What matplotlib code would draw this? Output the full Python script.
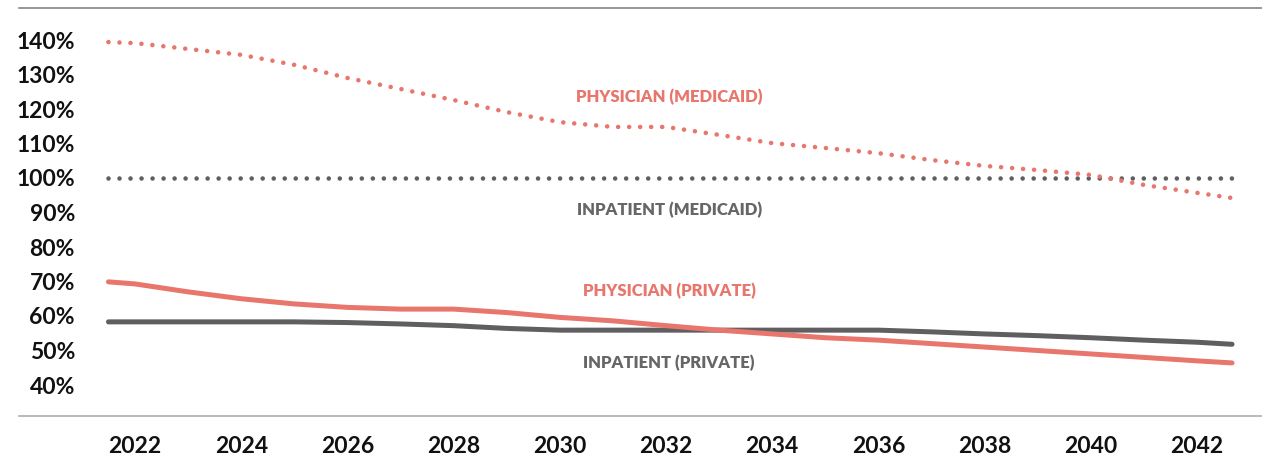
import matplotlib
matplotlib.use("Agg")
import matplotlib.pyplot as plt

plt.rcParams['font.family'] = ['Lato', 'DejaVu Sans']
plt.rcParams['lines.scale_dashes'] = False

# Years (endpoints fall half a year outside the labelled range)
years = [2021.5, 2022, 2023, 2024, 2025, 2026, 2027, 2028, 2029, 2030, 2031,
         2032, 2033, 2034, 2035, 2036, 2037, 2038, 2039, 2040, 2041, 2042, 2042.66]

physician_medicaid = [139.4, 139.1, 137.4, 135.7, 132.8, 129.0, 125.8, 122.6, 119.1,
                      116.2, 114.8, 114.8, 112.5, 110.1, 108.7, 107.2, 105.2, 103.5,
                      102.3, 100.9, 98.0, 95.7, 94.2]
inpatient_medicaid = [100.0] * len(years)
physician_private = [69.9, 69.3, 67.0, 65.0, 63.5, 62.5, 62.0, 62.0, 61.0, 59.6, 58.6,
                     57.2, 55.9, 54.8, 53.7, 53.0, 52.0, 51.0, 50.0, 49.0, 48.0, 47.0, 46.4]
inpatient_private = [58.3, 58.3, 58.3, 58.3, 58.3, 58.1, 57.7, 57.2, 56.4, 55.9, 55.9,
                     55.9, 55.9, 55.9, 55.9, 55.9, 55.4, 54.8, 54.3, 53.7, 53.0, 52.4, 51.8]

y_ticks = [40, 50, 60, 70, 80, 90, 100, 110, 120, 130, 140]
x_ticks = [2022, 2024, 2026, 2028, 2030, 2032, 2034, 2036, 2038, 2040, 2042]

RED = '#E8766D'
GRAY = '#5F5F61'

fig = plt.figure(figsize=(12.62, 4.57), dpi=100)
W, H = 1262, 457
ax = fig.add_axes([19 / W, 1 - 416 / H, 1 - 19 / W, (416 - 8) / H])

px = 100 / 72  # pixels per point
dot_style = dict(linestyle=(0, (0.01, 11 / px)), dash_capstyle='round',
                 linewidth=4.6 / px, solid_capstyle='round')

ax.plot(years, inpatient_medicaid, color=GRAY, **dot_style, zorder=2)
ax.plot(years, physician_medicaid, color=RED, **dot_style, zorder=3)
ax.plot(years, inpatient_private, color=GRAY, linewidth=5 / px,
        solid_capstyle='round', solid_joinstyle='round', zorder=2)
ax.plot(years, physician_private, color=RED, linewidth=5 / px,
        solid_capstyle='round', solid_joinstyle='round', zorder=3)

# Series labels
lab_kw = dict(ha='center', va='center', fontsize=12, fontweight='heavy')
ax.text(2032.06, 123.5, 'PHYSICIAN (MEDICAID)', color=RED, **lab_kw)
ax.text(2032.06, 90.7, 'INPATIENT (MEDICAID)', color='#666666', **lab_kw)
ax.text(2032.06, 67.2, 'PHYSICIAN (PRIVATE)', color=RED, **lab_kw)
ax.text(2032.06, 46.4, 'INPATIENT (PRIVATE)', color='#666666', **lab_kw)

x0 = 2022 + (19 - 135) / 53.1
x1 = 2022 + (1262 - 135) / 53.1
ax.set_xlim(x0, x1)
ax.set_ylim(140 - (416 - 40) / 3.45, 140 + (40 - 8) / 3.45)

ax.set_yticks(y_ticks)
ax.set_yticklabels([f'{v}%' for v in y_ticks])
ax.set_xticks(x_ticks)
ax.set_xticklabels([str(v) for v in x_ticks])
ax.tick_params(axis='y', length=0, pad=-(75 - 19) / px, labelsize=16.5)
ax.tick_params(axis='x', length=0, pad=20 / px, labelsize=16.5)
for lab in ax.get_yticklabels() + ax.get_xticklabels():
    lab.set_fontweight('bold')
    lab.set_color('#111111')
for lab in ax.get_yticklabels():
    lab.set_horizontalalignment('right')

for s in ('left', 'right'):
    ax.spines[s].set_visible(False)
ax.spines['top'].set_color('#808080')
ax.spines['top'].set_linewidth(1.6 / px)
ax.spines['bottom'].set_color('#aaaaaa')
ax.spines['bottom'].set_linewidth(1.6 / px)

fig.savefig('out.png', dpi=100)
